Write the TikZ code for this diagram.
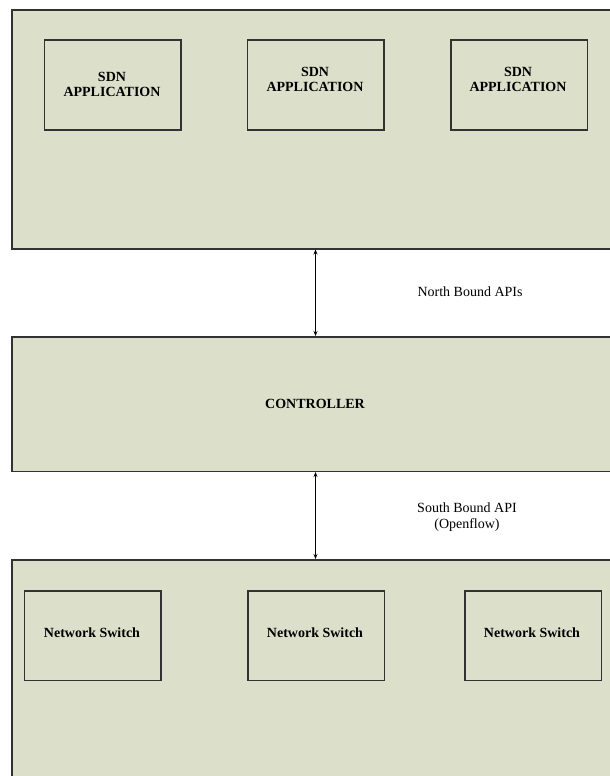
\documentclass[tikz,border=0pt]{standalone}
\usepackage{fontspec}
\setmainfont{Liberation Serif}
\usetikzlibrary{arrows.meta}
\definecolor{panelfill}{RGB}{220,224,203}
\definecolor{edge}{RGB}{50,50,50}
\begin{document}
\begin{tikzpicture}[x=1pt,y=-1pt,
  panel/.style={draw=edge,line width=1.5pt,fill=panelfill,rectangle,anchor=north west,inner sep=0pt},
  innerbox/.style={draw=edge,line width=1.5pt,fill=panelfill,rectangle,anchor=north west,inner sep=0pt,minimum width=136.5pt,minimum height=89.5pt},
  boxtext/.style={font=\fontsize{14}{15}\selectfont\bfseries,align=center,inner sep=0pt,text=black},
  apitext/.style={font=\fontsize{14}{15.5}\selectfont,align=center,inner sep=0pt,text=black},
  biarrow/.style={draw=black,line width=1.1pt,{Stealth[length=5pt,width=4pt]}-{Stealth[length=5pt,width=4pt]}}]
\useasboundingbox (0,0) rectangle (610,776);
\clip (0,0) rectangle (610,776);
\fill[white] (0,0) rectangle (610,776);
% panels
\node[panel,minimum width=650pt,minimum height=238.5pt] (apps) at (11,9.5) {};
\node[panel,minimum width=650pt,minimum height=134.5pt] (ctrl) at (11,336) {};
\node[panel,minimum width=650pt,minimum height=260pt] (net) at (11,559) {};
% application boxes
\node[innerbox] (app1) at (43.5,39.5) {};
\node[innerbox] (app2) at (246.5,39.5) {};
\node[innerbox] (app3) at (450,39.5) {};
\node[boxtext] (app1t) at (112,84) {SDN\\APPLICATION};
\node[boxtext] (app2t) at (315,79.5) {SDN\\APPLICATION};
\node[boxtext] (app3t) at (518,79.5) {SDN\\APPLICATION};
% controller
\node[boxtext] (ctrlt) at (315,404) {CONTROLLER};
% switches
\node[innerbox] (sw1) at (23.5,590) {};
\node[innerbox] (sw2) at (247,590) {};
\node[innerbox] (sw3) at (464,590) {};
\node[boxtext] (sw1t) at (92,632.5) {Network Switch};
\node[boxtext] (sw2t) at (315,632.5) {Network Switch};
\node[boxtext] (sw3t) at (532,632.5) {Network Switch};
% connectors
\coordinate (axis) at (315.5,0);
\draw[biarrow] (apps.south -| axis) -- (ctrl.north -| axis);
\draw[biarrow] (ctrl.south -| axis) -- (net.north -| axis);
% labels
\node[apitext] (nb) at (470,292) {North Bound APIs};
\node[apitext] (sb) at (467,517) {South Bound API\\(Openflow)};
\end{tikzpicture}
\end{document}
